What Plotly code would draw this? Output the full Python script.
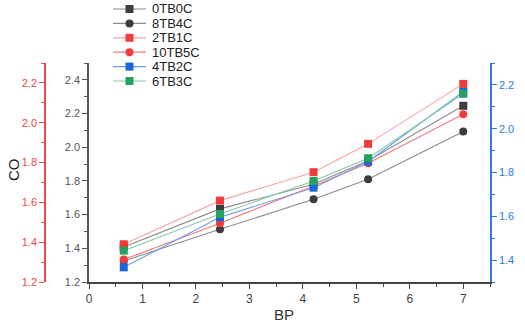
import plotly.graph_objects as go

bp = [0.65, 2.45, 4.2, 5.22, 7.0]

series_names = ["0TB0C", "8TB4C", "2TB1C", "10TB5C", "4TB2C", "6TB3C"]
co_0TB0C = [1.408, 1.634, 1.78, 1.92, 2.246]
co_8TB4C = [1.325, 1.513, 1.691, 1.810, 2.093]
co_2TB1C = [1.424, 1.683, 1.852, 2.020, 2.376]
co_10TB5C = [1.333, 1.549, 1.77, 1.905, 2.196]
co_4TB2C = [1.287, 1.584, 1.760, 1.915, 2.329]
co_6TB3C = [1.386, 1.604, 1.800, 1.935, 2.317]

series_values = [co_0TB0C, co_8TB4C, co_2TB1C, co_10TB5C, co_4TB2C, co_6TB3C]
marker_colors = ["#3d3d3d", "#3d3d3d", "#f23c3c", "#f23c3c", "#1e64dc", "#26a05e"]
line_colors = ["#8c8c8c", "#8c8c8c", "#f5a3a3", "#f27a7a", "#6f9de8", "#86cba6"]
symbols = ["square", "circle", "square", "circle", "square", "square"]

FONT = "Liberation Sans, Arial, sans-serif"
W, H = 525, 328
# plot area in screen pixels: x 89..490, y 63..282
ML, MR, MT, MB = 10, 525 - 490, 63, 328 - 282
PW, PH = W - ML - MR, H - MT - MB


def px_x(px):
    return (px - ML) / PW


def px_y(py):
    return (H - MB - py) / PH


fig = go.Figure()
for name, vals, mc, lc, sym in zip(series_names, series_values, marker_colors, line_colors, symbols):
    fig.add_trace(go.Scatter(
        x=bp, y=vals, name=name, mode="lines+markers",
        line=dict(color=lc, width=1.1),
        marker=dict(color=mc, symbol=sym, size=8),
        yaxis="y", showlegend=False,
    ))

# empty traces so the extra axes render
fig.add_trace(go.Scatter(x=[None], y=[None], yaxis="y2", showlegend=False, hoverinfo="skip"))
fig.add_trace(go.Scatter(x=[None], y=[None], yaxis="y3", showlegend=False, hoverinfo="skip"))

# compact legend (key) drawn as shapes + text
shapes = []
annotations = []
for i, (name, mc, lc, sym) in enumerate(zip(series_names, marker_colors, line_colors, symbols)):
    cy = 9 + 14.4 * i
    shapes.append(dict(type="line", xref="paper", yref="paper",
                       x0=px_x(113), x1=px_x(146), y0=px_y(cy), y1=px_y(cy),
                       line=dict(color=lc, width=1.2)))
    shapes.append(dict(type="rect" if sym == "square" else "circle", xref="paper", yref="paper",
                       x0=px_x(125.5), x1=px_x(133.5), y0=px_y(cy + 4), y1=px_y(cy - 4),
                       fillcolor=mc, line=dict(width=0)))
    annotations.append(dict(text=name, xref="paper", yref="paper", x=px_x(150), y=px_y(cy),
                            xanchor="left", yanchor="middle", showarrow=False,
                            font=dict(size=13, color="#222222", family=FONT)))

annotations.append(dict(text="CO", xref="paper", yref="paper", x=px_x(13), y=px_y(170),
                        xanchor="center", yanchor="middle", textangle=-90, showarrow=False,
                        font=dict(size=15, color="#222222", family=FONT)))
annotations.append(dict(text="BP", xref="paper", yref="paper", x=px_x(284), y=px_y(314),
                        xanchor="center", yanchor="middle", showarrow=False,
                        font=dict(size=15, color="#333333", family=FONT)))

red = "#f04848"
blue = "#2d7be0"
gray = "#555555"

fig.update_layout(
    width=W, height=H,
    margin=dict(l=ML, r=MR, t=MT, b=MB, autoexpand=False),
    paper_bgcolor="white", plot_bgcolor="white",
    font=dict(family=FONT, size=11, color=gray),
    showlegend=False,
    xaxis=dict(domain=[px_x(89), 1.0], range=[0, 7.5], dtick=1, tick0=0, automargin=False,
               showgrid=False, zeroline=False, showline=True, linecolor="#444444", linewidth=1.5,
               ticks="outside", ticklen=5, tickcolor="#444444",
               minor=dict(ticks="outside", ticklen=3, dtick=0.5, tickcolor="#444444"),
               tickfont=dict(size=12, color="#444444")),
    yaxis=dict(range=[1.2, 2.5], dtick=0.2, tick0=1.2, tickformat=".1f", automargin=False,
               showgrid=False, zeroline=False, showline=True, linecolor="#555555", linewidth=1.5,
               ticks="outside", ticklen=5, tickcolor="#555555",
               minor=dict(ticks="outside", ticklen=3, dtick=0.1, tickcolor="#555555"),
               tickfont=dict(size=11, color=gray)),
    yaxis2=dict(overlaying="y", anchor="free", position=px_x(45), side="left", automargin=False,
                range=[1.2, 2.3], dtick=0.2, tick0=1.2, tickformat=".1f",
                showgrid=False, zeroline=False, showline=True, linecolor=red, linewidth=1.5,
                ticks="outside", ticklen=5, tickcolor=red,
                minor=dict(ticks="outside", ticklen=3, dtick=0.1, tickcolor=red),
                tickfont=dict(size=11, color=red)),
    yaxis3=dict(overlaying="y", anchor="x", side="right", automargin=False,
                range=[1.3, 2.3], dtick=0.2, tick0=1.4, tickformat=".1f",
                showgrid=False, zeroline=False, showline=True, linecolor=blue, linewidth=1.5,
                ticks="outside", ticklen=5, tickcolor=blue,
                minor=dict(ticks="outside", ticklen=3, dtick=0.1, tickcolor=blue),
                tickfont=dict(size=11, color=blue)),
    shapes=shapes,
    annotations=annotations,
)

fig.write_html("out.html", config={"displayModeBar": False},
               post_script="document.body.style.margin='0px';")
